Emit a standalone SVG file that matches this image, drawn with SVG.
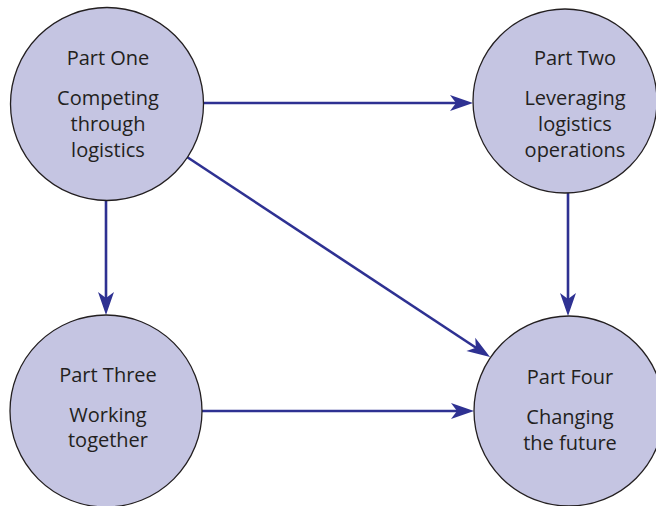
<svg xmlns="http://www.w3.org/2000/svg" width="656" height="506" viewBox="0 0 656 506">
<defs>
<style>
.node circle{fill:#c5c5e2;stroke:#231f20;stroke-width:1.3}
.node text{font-family:"Open Sans","Noto Sans",sans-serif;font-size:20px;fill:#231f20;text-anchor:middle}
.conn line{stroke:#2e3192;stroke-width:2.6;fill:none;marker-end:url(#ah)}
</style>
<marker id="ah" markerUnits="userSpaceOnUse" viewBox="-14 -9 25 18" markerWidth="25" markerHeight="18" refX="0" refY="0" orient="auto">
<path d="M10,0 L-13,-8 L-7,0 L-13,8 Z" fill="#2e3192"/>
</marker>
</defs>
<rect width="656" height="506" fill="#ffffff"/>
<g class="conn" id="connectors">
<line x1="203" y1="103" x2="463" y2="103"/>
<line x1="187" y1="157" x2="481.7" y2="351.5"/>
<line x1="106" y1="200" x2="106" y2="305"/>
<line x1="568" y1="193" x2="568" y2="306"/>
<line x1="202" y1="411" x2="464" y2="411"/>
</g>
<g class="node" id="part-one">
<circle cx="107" cy="104" r="96.5"/>
<text x="108" y="65">Part One</text>
<text x="108" y="105">Competing</text>
<text x="108" y="131">through</text>
<text x="108" y="157">logistics</text>
</g>
<g class="node" id="part-two">
<circle cx="565" cy="101" r="92"/>
<text x="575" y="65">Part Two</text>
<text x="575" y="105">Leveraging</text>
<text x="575" y="131">logistics</text>
<text x="575" y="157">operations</text>
</g>
<g class="node" id="part-three">
<circle cx="106" cy="411" r="96"/>
<text x="108" y="382">Part Three</text>
<text x="108" y="422">Working</text>
<text x="108" y="447">together</text>
</g>
<g class="node" id="part-four">
<circle cx="569" cy="411" r="95"/>
<text x="570" y="384">Part Four</text>
<text x="570" y="424">Changing</text>
<text x="570" y="450">the future</text>
</g>
</svg>
